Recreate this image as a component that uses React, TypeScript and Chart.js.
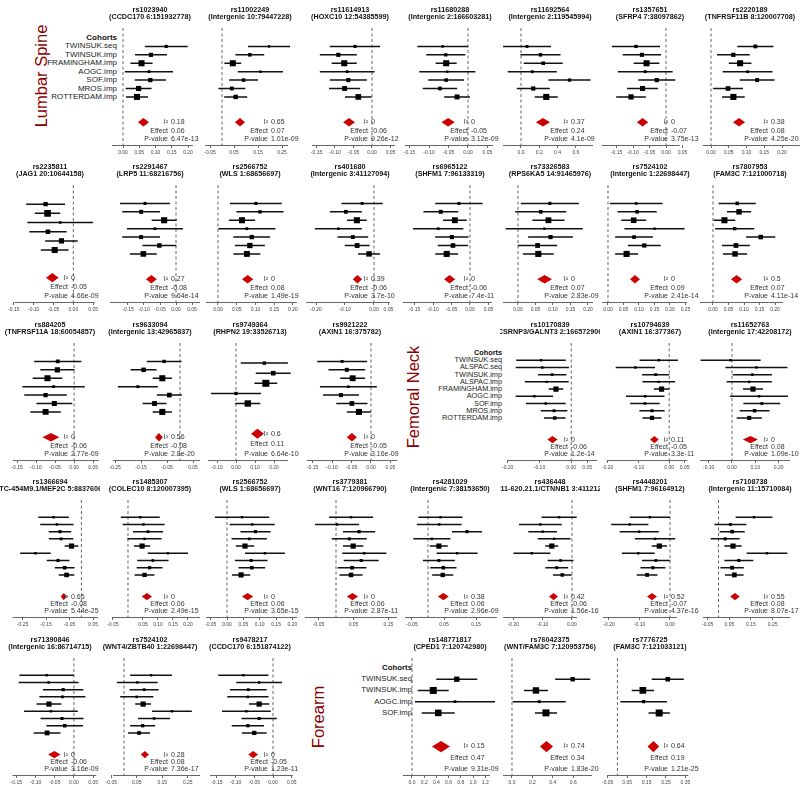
import React, { useEffect, useRef } from "react";
import { Chart, registerables } from "chart.js";
Chart.register(...registerables);

const FONT = "'Liberation Sans', Arial, Helvetica, sans-serif";

// ---------------- DATA ----------------
const lumbarCohorts = ["TWINSUK.seq", "TWINSUK.imp", "FRAMINGHAM.imp", "AOGC.imp", "SOF.imp", "MROS.imp", "ROTTERDAM.imp"];
const femoralCohorts = ["TWINSUK.seq", "ALSPAC.seq", "TWINSUK.imp", "ALSPAC.imp", "FRAMINGHAM.imp", "AOGC.imp", "SOF.imp", "MROS.imp", "ROTTERDAM.imp"];
const forearmCohorts = ["TWINSUK.seq", "TWINSUK.imp", "AOGC.imp", "SOF.imp"];
const siteNames = ["Lumbar Spine", "Femoral Neck", "Forearm"];

const snpIds = [
  "rs1023940", "rs11002249", "rs11614913", "rs11680288", "rs11692564", "rs1357651", "rs2220189",
  "rs2235811", "rs2291467", "rs2566752", "rs401680", "rs6965122", "rs73326583", "rs7524102", "rs7807953",
  "rs884205", "rs9633094", "rs9749364", "rs9921222", "rs10170839", "rs10794639", "rs11652763",
  "rs1366694", "rs1485307", "rs2566752", "rs3779381", "rs4281029", "rs436448", "rs4448201", "rs7108738",
  "rs71390846", "rs7524102", "rs9478217", "rs148771817", "rs76042375", "rs7776725",
];
const snpLoci = [
  "(CCDC170 6:151932778)", "(Intergenic 10:79447228)", "(HOXC10 12:54385599)", "(Intergenic 2:166603281)", "(Intergenic 2:119545994)", "(SFRP4 7:38097862)", "(TNFRSF11B 8:120007708)",
  "(JAG1 20:10644158)", "(LRP5 11:68216756)", "(WLS 1:68656697)", "(Intergenic 3:41127094)", "(SHFM1 7:96133319)", "(RPS6KA5 14:91465976)", "(Intergenic 1:22698447)", "(FAM3C 7:121000718)",
  "(TNFRSF11A 18:60054857)", "(Intergenic 13:42965837)", "(RHPN2 19:33526713)", "(AXIN1 16:375782)", "(CSRNP3/GALNT3 2:166572906)", "(AXIN1 16:377367)", "(Intergenic 17:42208172)",
  "(CTC-454M9.1/MEF2C 5:88376061)", "(COLEC10 8:120007395)", "(WLS 1:68656697)", "(WNT16 7:120966790)", "(Intergenic 7:38153650)", "(RP11-620.21.1/CTNNB1 3:41121257)", "(SHFM1 7:96164912)", "(Intergenic 11:15710084)",
  "(Intergenic 16:86714715)", "(WNT4/ZBTB40 1:22698447)", "(CCDC170 6:151874122)", "(CPED1 7:120742980)", "(WNT/FAM3C 7:120953756)", "(FAM3C 7:121033121)",
];

const cohortEst: number[][] = [
  [0.133, 0.086, 0.057, 0.08, 0.084, 0.048, 0.043],
  [0.196, 0.116, 0.045, 0.16, 0.09, 0.041, 0.057],
  [-0.046, -0.091, -0.075, -0.067, -0.064, -0.074, -0.037],
  [-0.065, -0.057, -0.056, -0.053, -0.056, -0.072, -0.028],
  [0.066, 0.213, 0.243, 0.123, 0.53, 0.134, 0.276],
  [-0.091, -0.073, -0.059, -0.063, -0.028, -0.071, -0.106],
  [0.125, 0.063, 0.082, 0.103, 0.13, 0.048, 0.063],
  [-0.07, -0.065, -0.033, -0.064, -0.03, -0.047],
  [-0.097, -0.109, -0.037, -0.066, -0.109, -0.052, -0.102],
  [0.101, 0.112, 0.064, 0.077, 0.09, 0.085, 0.077],
  [-0.041, -0.097, -0.059, -0.123, -0.073, -0.058, -0.017],
  [-0.03, -0.079, -0.041, -0.086, -0.049, -0.046, -0.063],
  [0.091, 0.065, 0.087, 0.075, 0.093, 0.056, 0.058],
  [0.091, 0.094, 0.083, 0.15, 0.084, 0.117, 0.06],
  [0.078, 0.084, 0.037, 0.07, 0.154, 0.074, 0.071],
  [-0.043, -0.044, -0.07, -0.054, -0.075, -0.052, -0.075],
  [-0.061, -0.14, -0.068, -0.162, -0.041, -0.098, -0.068],
  [0.149, 0.196, 0.157, 0.0, 0.062],
  [-0.074, -0.062, -0.047, -0.058, -0.077, -0.049, -0.031],
  [-0.095, -0.091, -0.06, -0.077, -0.048, -0.116, -0.08, -0.054, -0.052],
  [-0.034, -0.11, -0.044, -0.034, -0.025, -0.078, -0.079, -0.056, -0.056],
  [-0.006, 0.105, 0.087, 0.074, 0.09, 0.116, 0.128, 0.097, 0.074],
  [-0.118, -0.104, -0.091, -0.086, -0.042, -0.195, -0.099, -0.071, -0.063],
  [0.041, 0.052, 0.067, 0.055, 0.047, 0.133, 0.083, 0.072, 0.055],
  [0.046, 0.077, 0.087, 0.068, 0.055, 0.116, 0.074, 0.076, 0.043],
  [0.043, 0.003, 0.066, 0.038, 0.049, 0.081, 0.072, 0.046, 0.043],
  [0.039, 0.035, 0.122, 0.012, 0.034, 0.091, 0.034, 0.048, 0.046],
  [-0.044, -0.108, -0.1, -0.061, -0.069, -0.137, -0.039, -0.052, -0.033],
  [-0.066, -0.132, -0.101, -0.049, -0.035, -0.104, -0.046, -0.056, -0.075],
  [0.164, 0.055, 0.063, 0.031, 0.067, 0.224, 0.094, 0.063, 0.073],
  [-0.071, -0.066, -0.028, -0.03, -0.065, -0.06, -0.031, -0.024, -0.07],
  [0.106, 0.052, 0.079, 0.05, 0.075, 0.188, 0.118, 0.073, 0.059],
  [-0.079, -0.037, -0.066, -0.067, -0.037, -0.071, -0.037, -0.067, -0.05],
  [0.734, 0.348, 0.705, 0.43],
  [0.595, 0.235, 0.267, 0.333],
  [0.259, 0.131, 0.135, 0.215],
];
const cohortHalfCI: number[][] = [
  [0.066, 0.049, 0.034, 0.074, 0.048, 0.04, 0.034],
  [0.0875, 0.06, 0.035, 0.094, 0.06, 0.056, 0.048],
  [0.068, 0.05, 0.034, 0.074, 0.05, 0.042, 0.036],
  [0.065, 0.05, 0.027, 0.072, 0.046, 0.044, 0.033],
  [0.262, 0.219, 0.213, 0.268, 0.23, 0.18, 0.126],
  [0.073, 0.058, 0.039, 0.083, 0.056, 0.047, 0.045],
  [0.051, 0.046, 0.032, 0.07, 0.049, 0.042, 0.032],
  [0.049, 0.032, 0.083, 0.047, 0.041, 0.035],
  [0.078, 0.059, 0.039, 0.0875, 0.059, 0.053, 0.042],
  [0.069, 0.063, 0.035, 0.076, 0.049, 0.04, 0.036],
  [0.071, 0.055, 0.034, 0.081, 0.053, 0.043, 0.038],
  [0.064, 0.047, 0.032, 0.068, 0.045, 0.041, 0.031],
  [0.083, 0.073, 0.046, 0.11, 0.064, 0.056, 0.044],
  [0.085, 0.063, 0.04, 0.097, 0.061, 0.053, 0.037],
  [0.06, 0.039, 0.035, 0.063, 0.047, 0.045, 0.039],
  [0.062, 0.045, 0.039, 0.082, 0.056, 0.047, 0.04],
  [0.067, 0.05, 0.037, 0.077, 0.048, 0.046, 0.037],
  [0.124, 0.092, 0.06, 0.132, 0.066],
  [0.064, 0.047, 0.032, 0.073, 0.046, 0.04, 0.031],
  [0.078, 0.084, 0.045, 0.069, 0.023, 0.059, 0.0625, 0.042, 0.034],
  [0.0625, 0.064, 0.044, 0.053, 0.025, 0.0625, 0.048, 0.041, 0.031],
  [0.129, 0.133, 0.084, 0.097, 0.043, 0.124, 0.079, 0.064, 0.054],
  [0.065, 0.071, 0.048, 0.052, 0.029, 0.065, 0.048, 0.042, 0.033],
  [0.065, 0.07, 0.05, 0.057, 0.027, 0.067, 0.052, 0.043, 0.033],
  [0.083, 0.069, 0.046, 0.054, 0.028, 0.061, 0.05, 0.041, 0.028],
  [0.063, 0.063, 0.046, 0.05, 0.029, 0.063, 0.05, 0.041, 0.033],
  [0.069, 0.07, 0.047, 0.058, 0.028, 0.064, 0.05, 0.041, 0.033],
  [0.06, 0.073, 0.049, 0.056, 0.022, 0.063, 0.044, 0.039, 0.032],
  [0.066, 0.061, 0.064, 0.066, 0.025, 0.054, 0.046, 0.041, 0.034],
  [0.085, 0.074, 0.058, 0.067, 0.04, 0.094, 0.067, 0.054, 0.043],
  [0.071, 0.078, 0.0525, 0.06, 0.0325, 0.07, 0.056, 0.0475, 0.035],
  [0.082, 0.08, 0.057, 0.065, 0.031, 0.078, 0.063, 0.049, 0.043],
  [0.067, 0.061, 0.049, 0.055, 0.027, 0.065, 0.047, 0.043, 0.033],
  [0.336, 0.254, 0.656, 0.27],
  [0.172, 0.118, 0.26, 0.108],
  [0.0825, 0.0575, 0.12, 0.055],
];
const summaryEst = [
  0.063, 0.075, -0.062, -0.051, 0.24, -0.071, 0.079,
  -0.053, -0.077, 0.079, -0.057, -0.055, 0.076, 0.087, 0.076,
  -0.061, -0.081, 0.113, -0.049, -0.059, -0.048, 0.079,
  -0.075, 0.063, 0.063, 0.047, 0.048, -0.063, -0.059, 0.076,
  -0.051, 0.082, -0.053, 0.475, 0.338, 0.185,
];
const summaryHalfCI = [
  0.017, 0.021, 0.016, 0.017, 0.077, 0.017, 0.017,
  0.016, 0.017, 0.015, 0.016, 0.015, 0.021, 0.016, 0.018,
  0.022, 0.015, 0.034, 0.013, 0.016, 0.014, 0.032,
  0.0125, 0.017, 0.017, 0.016, 0.017, 0.015, 0.016, 0.022,
  0.016, 0.016, 0.013, 0.148, 0.064, 0.03,
];
const i2Labels = [
  "0.18", "0.65", "0", "0", "0.37", "0", "0.38",
  "0", "0.27", "0", "0.39", "0", "0", "0", "0.5",
  "0", "0.56", "0.6", "0", "0", "0.11", "0",
  "0.65", "0", "0", "0", "0.38", "0.42", "0.52", "0.55",
  "0", "0.28", "0", "0.15", "0.74", "0.64",
];
const effectLabels = [
  "0.06", "0.07", "-0.06", "-0.05", "0.24", "-0.07", "0.08",
  "-0.05", "-0.08", "0.08", "-0.06", "-0.06", "0.07", "0.09", "0.07",
  "-0.06", "-0.08", "0.11", "-0.05", "-0.06", "-0.05", "0.08",
  "-0.08", "0.06", "0.06", "0.06", "0.06", "-0.06", "-0.07", "0.08",
  "-0.06", "0.08", "-0.05", "0.47", "0.34", "0.19",
];
const pValueLabels = [
  "6.47e-13", "1.01e-09", "9.26e-12", "3.12e-09", "4.1e-09", "3.75e-13", "4.25e-20",
  "4.66e-09", "9.64e-14", "1.49e-19", "3.7e-10", "7.4e-11", "2.83e-09", "2.41e-14", "4.11e-14",
  "2.77e-09", "2.8e-20", "6.64e-10", "3.16e-09", "1.2e-14", "3.3e-11", "1.09e-10",
  "5.44e-25", "2.49e-15", "3.65e-15", "2.87e-11", "2.96e-09", "1.56e-16", "4.37e-16", "8.07e-17",
  "3.16e-09", "7.36e-17", "1.23e-11", "9.31e-09", "1.83e-20", "1.21e-25",
];
// x-scale range of each panel
const xScaleMin = [
  -0.0708, -0.0917, -0.1946, -0.1744, -0.2295, -0.2, -0.031,
  -0.185, -0.2375, -0.048, -0.2552, -0.1892, -0.0514, -0.0258, -0.0419,
  -0.1948, -0.3077, -0.1895, -0.1821, -0.2219, -0.2125, -0.1373,
  -0.3458, -0.0933, -0.0826, -0.1029, -0.0875, -0.2457, -0.2295, -0.0717,
  -0.1925, -0.0941, -0.1947, -0.1967, -0.1176, -0.075,
];
const xScaleMax = [
  0.2369, 0.325, 0.0757, 0.0821, 0.8634, 0.103, 0.2507,
  0.0617, 0.075, 0.2187, 0.0897, 0.0811, 0.2343, 0.2968, 0.2806,
  0.0649, 0.0769, 0.3368, 0.0744, 0.0906, 0.1, 0.2918,
  0.0708, 0.24, 0.2232, 0.1829, 0.225, 0.0956, 0.0984, 0.3767,
  0.0575, 0.298, 0.072, 1.4426, 0.8627, 0.425,
];
// extent of the drawn axis line
const axisLineFrom = [
  -0.034, -0.071, -0.162, -0.162, -0.197, -0.194, -0.023,
  -0.148, -0.206, -0.032, -0.234, -0.181, -0.043, -0.019, -0.042,
  -0.161, -0.258, -0.147, -0.164, -0.2, -0.203, -0.137,
  -0.292, -0.05, -0.064, -0.089, -0.072, -0.235, -0.22, -0.072,
  -0.16, -0.043, -0.168, -0.148, -0.088, -0.05,
];
const axisLineTo = [
  0.215, 0.275, 0.062, 0.064, 0.787, 0.042, 0.25,
  0.054, 0.075, 0.21, 0.055, 0.059, 0.214, 0.255, 0.226,
  0.065, 0.077, 0.274, 0.067, 0.081, 0.059, 0.249,
  0.071, 0.24, 0.214, 0.174, 0.216, 0.017, 0.023, 0.332,
  0.058, 0.298, 0.053, 1.279, 0.784, 0.365,
];
const T5A = ["-0.15", "-0.10", "-0.05", "0.00", "0.05"];
const T5B = ["0.00", "0.05", "0.10", "0.15", "0.20"];
const tickLabels: string[][] = [
  T5B, ["-0.05", "0.05", "0.15", "0.25"], T5A, T5A, ["0.0", "0.2", "0.4", "0.6"], T5A, T5B,
  T5A, T5A, T5B, ["-0.20", "-0.10", "0.00", "0.05"], T5A, T5B, ["0.00", "0.05", "0.10", "0.15", "0.20", "0.25"], T5B,
  T5A, ["-0.25", "-0.15", "-0.05", "0.05"], ["-0.10", "0.00", "0.10", "0.20"], T5A, ["-0.20", "-0.10", "0.00", "0.05"], ["-0.20", "-0.10", "0.00", "0.05"], ["-0.10", "0.00", "0.10", "0.20"],
  ["-0.25", "-0.15", "-0.05", "0.05"], ["-0.05", "0.05", "0.10", "0.15", "0.20"], ["-0.05", "0.00", "0.05", "0.10", "0.15", "0.20"], ["-0.05", "0.05", "0.15"], ["-0.05", "0.05", "0.15"], ["-0.20", "-0.10", "0.00"], ["-0.20", "-0.10", "0.00"], ["-0.05", "0.05", "0.15", "0.25"],
  T5A, ["-0.05", "0.05", "0.15", "0.25"], T5A, ["0.0", "0.2", "0.4", "0.6", "0.8", "1.0", "1.2"], ["0.0", "0.2", "0.4", "0.6"], ["-0.05", "0.05", "0.15", "0.25", "0.35"],
];

// ---------------- LAYOUT ----------------
const panelRow = [0, 0, 0, 0, 0, 0, 0, 1, 1, 1, 1, 1, 1, 1, 1, 2, 2, 2, 2, 2, 2, 2, 3, 3, 3, 3, 3, 3, 3, 3, 4, 4, 4, 4, 4, 4];
const panelCol = [1, 2, 3, 4, 5, 6, 7, 0, 1, 2, 3, 4, 5, 6, 7, 0, 1, 2, 3, 5, 6, 7, 0, 1, 2, 3, 4, 5, 6, 7, 0, 1, 2, 4, 5, 6];
const ROW_TOP = [0, 157, 315, 472, 630];
const COL_W = 100;
const PANEL_H = 158;
const AREA_TOP = 28;
const AREA_BOTTOM = 145;
const ROW_SPAN = 101; // px from header row to p-value row
const TITLE_SIZE = 7.2;

const labelBlocks = [
  { site: 0, row: 0, cohorts: lumbarCohorts, right: 117, cx: 41, cy: 76, size: 8 },
  { site: 1, row: 2, cohorts: femoralCohorts, right: 502, cx: 413, cy: 82, size: 7.3 },
  { site: 2, row: 4, cohorts: forearmCohorts, right: 412, cx: 318, cy: 87, size: 7.8 },
];

function ForestPanel({ idx }: { idx: number }) {
  const ref = useRef<HTMLCanvasElement | null>(null);
  useEffect(() => {
    const canvas = ref.current;
    if (!canvas) return;
    const est = cohortEst[idx];
    const half = cohortHalfCI[idx];
    const n = est.length;
    const last = n + 5;
    const h = AREA_BOTTOM - AREA_TOP;
    const yMin = (-(38 - AREA_TOP) * last) / ROW_SPAN;
    const yMax = yMin + (h * last) / ROW_SPAN;
    const rowStep = ROW_SPAN / last;
    const xMin = xScaleMin[idx];
    const xMax = xScaleMax[idx];
    const pxPerUnit = COL_W / (xMax - xMin);
    const widths = half.map((hw) => 2 * hw * pxPerUnit);
    const minW = Math.min(...widths);
    const maxSide = Math.min(rowStep * 0.72, 7);
    const radii = widths.map((w) => Math.max(2.4, (maxSide * minW) / w) / Math.SQRT2);
    const ciData: any[] = [];
    est.forEach((e, i) => {
      ciData.push({ x: e - half[i], y: i + 1 }, { x: e + half[i], y: i + 1 }, { x: null, y: null });
    });
    const ticks = tickLabels[idx].map((t) => parseFloat(t));

    const overlay = {
      id: "overlay" + idx,
      afterDatasetsDraw(chart: any) {
        const { ctx, chartArea } = chart;
        const xs = chart.scales.x;
        const ys = chart.scales.y;
        ctx.save();
        // panel title (clipped by the panel edges, not squeezed)
        ctx.font = `bold ${TITLE_SIZE}px ${FONT}`;
        ctx.fillStyle = "#111";
        ctx.textAlign = "center";
        ctx.textBaseline = "middle";
        ctx.fillText(snpIds[idx], COL_W / 2, 10);
        ctx.fillText(snpLoci[idx], COL_W / 2, 17.5);
        // axis line
        const yb = Math.round(chartArea.bottom) + 0.5;
        ctx.strokeStyle = "#666";
        ctx.lineWidth = 1;
        ctx.beginPath();
        ctx.moveTo(xs.getPixelForValue(axisLineFrom[idx]), yb);
        ctx.lineTo(xs.getPixelForValue(axisLineTo[idx]), yb);
        ctx.stroke();
        // summary diamond
        const se = summaryEst[idx];
        const sh = summaryHalfCI[idx];
        const sy = ys.getPixelForValue(n + 3);
        const hh = Math.min(rowStep * 0.5, 5.8);
        ctx.fillStyle = "#cc0000";
        ctx.beginPath();
        ctx.moveTo(xs.getPixelForValue(se - sh), sy);
        ctx.lineTo(xs.getPixelForValue(se), sy - hh);
        ctx.lineTo(xs.getPixelForValue(se + sh), sy);
        ctx.lineTo(xs.getPixelForValue(se), sy + hh);
        ctx.closePath();
        ctx.fill();
        // text block
        ctx.font = `7px ${FONT}`;
        ctx.fillStyle = "#333";
        ctx.textBaseline = "middle";
        const rows = [
          ["I\u00B2", i2Labels[idx]],
          ["Effect", effectLabels[idx]],
          ["P-value", pValueLabels[idx]],
        ];
        rows.forEach(([lab, val], k) => {
          const ty = ys.getPixelForValue(n + 3 + k);
          ctx.textAlign = "right";
          ctx.fillText(lab, 68, ty);
          ctx.textAlign = "left";
          ctx.fillText(val, 71, ty);
        });
        ctx.restore();
      },
    };

    const chart = new Chart(canvas, {
      type: "scatter",
      data: {
        datasets: [
          {
            data: est.map((e, i) => ({ x: e, y: i + 1 })),
            pointStyle: "rect",
            pointRadius: radii,
            pointHoverRadius: radii,
            backgroundColor: "#000",
            borderColor: "#000",
            borderWidth: 0,
            showLine: false,
          } as any,
          {
            data: ciData,
            showLine: true,
            spanGaps: false,
            borderColor: "#111",
            borderWidth: 1.5,
            pointRadius: 0,
          } as any,
          {
            data: [
              { x: 0, y: yMin },
              { x: 0, y: yMax },
            ],
            showLine: true,
            borderColor: "#666",
            borderWidth: 1,
            borderDash: [3, 2.5],
            pointRadius: 0,
          } as any,
        ],
      },
      options: {
        animation: false,
        responsive: false,
        devicePixelRatio: 1,
        events: [],
        layout: { padding: { top: AREA_TOP, left: 0, right: 0, bottom: 0 }, autoPadding: false } as any,
        plugins: {
          legend: { display: false },
          tooltip: { enabled: false },
          title: { display: false },
        },
        scales: {
          x: {
            type: "linear",
            position: "bottom",
            min: xMin,
            max: xMax,
            afterBuildTicks: (axis: any) => {
              axis.ticks = ticks.map((v) => ({ value: v }));
            },
            afterFit: (axis: any) => {
              axis.height = PANEL_H - AREA_BOTTOM;
            },
            ticks: {
              autoSkip: false,
              maxRotation: 0,
              minRotation: 0,
              padding: 2,
              color: "#444",
              font: { size: 5, family: FONT },
              callback: (_v: any, i: number) => tickLabels[idx][i] ?? "",
            },
            grid: { drawOnChartArea: false, drawTicks: true, tickLength: 3, color: "#666", lineWidth: 1 },
            border: { display: false },
          },
          y: { type: "linear", display: false, reverse: true, min: yMin, max: yMax },
        },
      } as any,
      plugins: [overlay],
    });
    return () => chart.destroy();
  }, [idx]);
  return (
    <canvas
      ref={ref}
      width={COL_W}
      height={PANEL_H}
      style={{ position: "absolute", left: panelCol[idx] * COL_W, top: ROW_TOP[panelRow[idx]], width: COL_W, height: PANEL_H }}
    />
  );
}

function LabelBlock({ b }: { b: (typeof labelBlocks)[number] }) {
  const top = ROW_TOP[b.row];
  const n = b.cohorts.length;
  const step = ROW_SPAN / (n + 5);
  const items = ["Cohorts", ...b.cohorts];
  return (
    <>
      <div
        style={{
          position: "absolute",
          left: b.cx,
          top: top + b.cy,
          transform: "translate(-50%, -50%) rotate(-90deg)",
          whiteSpace: "nowrap",
          fontFamily: FONT,
          fontSize: 16.5,
          color: "#8b0000",
          lineHeight: 1,
        }}
      >
        {siteNames[b.site]}
      </div>
      {items.map((t, k) => (
        <div
          key={k}
          style={{
            position: "absolute",
            left: b.right - 120,
            width: 120,
            top: top + 38 + k * step - 5,
            height: 10,
            lineHeight: "10px",
            textAlign: "right",
            whiteSpace: "nowrap",
            fontFamily: FONT,
            fontSize: b.size,
            fontWeight: k === 0 ? "bold" : "normal",
            color: k === 0 ? "#111" : "#222",
          }}
        >
          {t}
        </div>
      ))}
    </>
  );
}

export default function App() {
  return (
    <div style={{ position: "absolute", left: 0, top: 0, width: 800, height: 794, background: "#fff", overflow: "hidden" }}>
      {labelBlocks.map((b, i) => (
        <LabelBlock key={"l" + i} b={b} />
      ))}
      {snpIds.map((_, i) => (
        <ForestPanel key={i} idx={i} />
      ))}
    </div>
  );
}
